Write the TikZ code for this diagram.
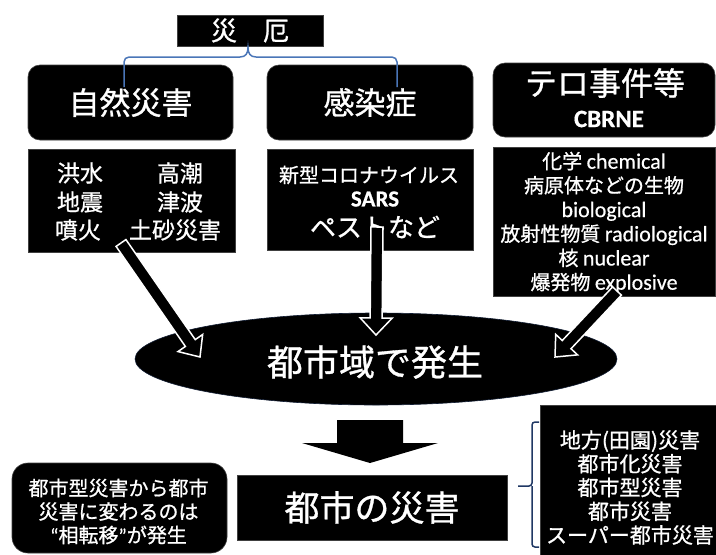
\documentclass[tikz,border=0pt]{standalone}
\usepackage{fontspec}
\setmainfont{Noto Sans CJK JP}[FakeBold=0.9]
\newfontfamily\lat{Carlito}[FakeBold=0.5]
\usetikzlibrary{calc,shapes.geometric}
\definecolor{braceblue}{HTML}{4A76B8}
\definecolor{bracenavy}{HTML}{203864}
\newcommand\fsz[2]{\fontsize{#1}{#2}\selectfont}
% block arrow: [style]{tail}{tip}{shaft half width}{head half width}{head length}{name of head-base coordinate}
\newcommand\blockarr[7][arrowsty]{%
  \coordinate (#7) at ($(#3)!#6!(#2)$);
  \filldraw[#1] ($(#2)!#4!90:(#3)$) -- ($(#7)!#4!90:(#3)$) -- ($(#7)!#5!90:(#3)$) -- (#3)
    -- ($(#7)!#5!-90:(#3)$) -- ($(#7)!#4!-90:(#3)$) -- ($(#2)!#4!-90:(#3)$) -- cycle;
}
\tikzset{
  blk/.style={fill=black, text=white, inner sep=0pt, draw=black!75, line width=0.6pt},
  rblk/.style={blk, rounded corners=12pt},
  wtxt/.style={text=white, inner sep=0pt, align=center},
  arrowsty/.style={fill=black, draw=white, line width=1.5pt, line join=miter},
  bigarrow/.style={fill=black, draw=none},
  brace1/.style={draw=braceblue, line width=1.5pt},
  brace2/.style={draw=bracenavy, line width=1.5pt},
}
\begin{document}
\begin{tikzpicture}[x=1pt,y=-1pt]
\useasboundingbox (0,0) rectangle (716,555);
\fill[white] (0,0) rectangle (716,555);

% top title
\node[blk, minimum width=146pt, minimum height=31pt] (top) at (250,30.5) {\fsz{26}{30}災　厄};

% first row
\node[rblk, minimum width=205pt, minimum height=75pt] (nat) at (130.5,102.5) {\fsz{31}{34}自然災害};
\node[rblk, minimum width=206pt, minimum height=75pt] (inf) at (370,102.5) {\fsz{31}{34}感染症};
\node[rblk, minimum width=222pt, minimum height=74pt] (ter) at (604,100) {};
\node[wtxt] (terT) at (605,83) {\fsz{32}{36}テロ事件等};
\node[wtxt] (cbrne) at (609,119) {\lat\bfseries\fsz{25}{28}CBRNE};

% top brace
\draw[brace1, rounded corners=5pt] (124,87) -- (124,57) -- (240,57);
\draw[brace1] (240,57) .. controls (246,57) and (248,53) .. (248,47.5)
  .. controls (248,53) and (250,57) .. (256,57);
\draw[brace1, rounded corners=5pt] (256,57) -- (397,57) -- (397,87);

% second row
\node[blk, minimum width=207pt, minimum height=103pt] (natL) at (131.5,200.5) {};
\node[wtxt] (n1) at (80,173) {\fsz{23}{26}洪水};
\node[wtxt] (n2) at (180,173) {\fsz{23}{26}高潮};
\node[wtxt] (n3) at (80,202) {\fsz{23}{26}地震};
\node[wtxt] (n4) at (180,202) {\fsz{23}{26}津波};
\node[wtxt] (n5) at (78,230) {\fsz{23}{26}噴火};
\node[wtxt] (n6) at (175,230) {\fsz{23}{26}土砂災害};

\node[blk, minimum width=206pt, minimum height=101pt] (infL) at (370,199.5) {};
\node[wtxt] (i1) at (369,175) {\fsz{20}{24}新型コロナウイルス};
\node[wtxt] (i2) at (375,199) {\lat\bfseries\fsz{23}{26}SARS};
\node[wtxt] (i3) at (375,227) {\fsz{26}{30}ペストなど};

\node[blk, minimum width=222pt, minimum height=149pt] (terL) at (604,221.5) {};
\node[wtxt, font={\fsz{20}{24.2}}] (terTxt) at (604,222.5)
  {化学 {\lat\fsz{22}{24.2}chemical}\\病原体などの生物\\{\lat\fsz{22}{24.2}biological}\\放射性物質 {\lat\fsz{22}{24.2}radiological}\\核 {\lat\fsz{22}{24.2}nuclear}\\爆発物 {\lat\fsz{22}{24.2}explosive}};

% ellipse
\node[ellipse, fill=black, draw=bracenavy!50!black, line width=0.6pt, minimum width=482pt, minimum height=92pt, inner sep=0pt] (city) at (376,359) {};

% arrows into the ellipse
\coordinate (la) at (121,243);
\coordinate (lb) at (200,357);
\blockarr{la}{lb}{6pt}{15pt}{17pt}{lh}
\coordinate (ma) at (377,227);
\coordinate (mb) at (376,335);
\blockarr{ma}{mb}{6pt}{16pt}{17pt}{mh}
\coordinate (ra) at (617,291);
\coordinate (rb) at (555,357);
\blockarr{ra}{rb}{6pt}{15pt}{17pt}{rh}

\node[wtxt] (cityT) at (375,362) {\fsz{36}{40}都市域で発生};

% big down arrow
\coordinate (da) at (370,420);
\coordinate (db) at (370,463);
\blockarr[bigarrow]{da}{db}{33pt}{68pt}{20pt}{dh}

% bottom row
\node[blk, minimum width=270pt, minimum height=65pt] (urb) at (372,507.5) {\fsz{35}{40}都市の災害};

\node[blk, rounded corners=16pt, minimum width=215pt, minimum height=90pt] (note) at (119.5,508) {};
\node[wtxt, font={\fsz{20}{23.5}}] (noteT) at (118.5,511.5)
  {都市型災害から都市\\災害に変わるのは\\{\lat “}相転移{\lat ”}が発生};

\node[blk, minimum width=176pt, minimum height=150pt] (rlist) at (628,480) {};
\node[wtxt, font={\fsz{21}{23.75}}] (rlistT) at (630,487.5)
  {地方(田園)災害\\都市化災害\\都市型災害\\都市災害\\スーパー都市災害};

% bottom brace
\draw[brace2, rounded corners=3pt] (539,422) -- (532,422) -- (532,486) -- (518,486);
\draw[brace2, rounded corners=3pt] (539,547) -- (532,547) -- (532,486);
\end{tikzpicture}
\end{document}
